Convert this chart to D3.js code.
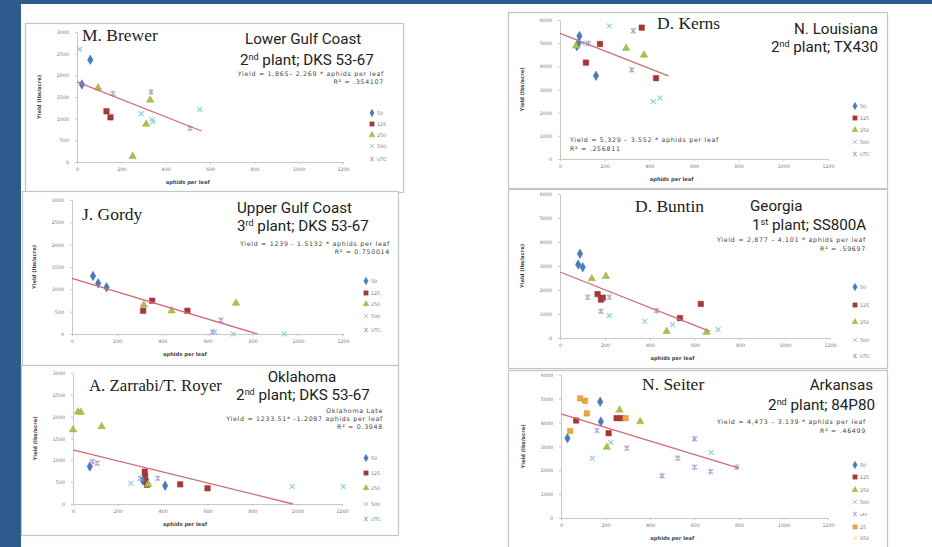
<!DOCTYPE html>
<html>
<head>
<meta charset="utf-8">
<script src="https://cdn.jsdelivr.net/npm/d3@7"></script>
<style>
html, body { margin: 0; padding: 0; background: #fff; }
svg { display: block; }
</style>
</head>
<body>
<div id="container"></div>
<script>
// tick labels
var xTicks = [0, 200, 400, 600, 800, 1000, 1200];
var yTicksLow = [0, 500, 1000, 1500, 2000, 2500, 3000];
var yTicksHigh = [0, 1000, 2000, 3000, 4000, 5000, 6000];
var seriesNames = ["50", "125", "250", "500", "UTC"];
var seiterSeries = ["50", "125", "250", "500", "utc", "25", "850"];

// points: [series, aphids per leaf, yield lbs/acre]
var brewerPts = [
    ["500", 12, 2600], ["50", 60, 2360], ["50", 22, 1790], ["250", 95, 1710], ["UTC", 162, 1580],
    ["125", 133, 1170], ["125", 151, 1030], ["250", 251, 130], ["UTC", 334, 1615], ["250", 330, 1430],
    ["500", 290, 1115], ["250", 312, 875], ["500", 338, 980], ["500", 343, 930], ["500", 554, 1210],
    ["UTC", 510, 780]
];
var gordyPts = [
    ["50", 93, 1300], ["50", 116, 1135], ["50", 153, 1045], ["250", 318, 650], ["125", 315, 520],
    ["125", 355, 745], ["250", 441, 520], ["125", 511, 520], ["250", 726, 690], ["UTC", 659, 310],
    ["UTC", 622, 45], ["500", 632, 55], ["500", 715, 0], ["500", 940, 0]
];
var zarrabiPts = [
    ["250", 22, 2110], ["250", 35, 2100], ["250", 0, 1700], ["250", 128, 1775], ["50", 75, 860],
    ["UTC", 86, 970], ["UTC", 108, 935], ["500", 258, 475], ["125", 320, 740], ["125", 322, 630],
    ["125", 325, 510], ["125", 330, 440], ["50", 310, 550], ["UTC", 300, 590], ["250", 335, 450],
    ["UTC", 378, 590], ["50", 411, 420], ["125", 478, 450], ["125", 600, 360], ["500", 978, 400],
    ["500", 1205, 400]
];
var kernsPts = [
    ["50", 87, 5310], ["50", 82, 5000], ["50", 76, 4870], ["250", 72, 4880], ["UTC", 127, 4990],
    ["500", 100, 5000], ["125", 179, 4965], ["125", 116, 4160], ["50", 161, 3590], ["500", 221, 5740],
    ["UTC", 328, 5540], ["125", 366, 5670], ["250", 296, 4780], ["250", 376, 4490], ["UTC", 321, 3850],
    ["125", 430, 3490], ["500", 418, 2480], ["500", 448, 2630]
];
var buntinPts = [
    ["50", 89, 3510], ["50", 81, 3060], ["50", 101, 2950], ["250", 141, 2470], ["250", 204, 2570],
    ["125", 167, 1830], ["125", 182, 1600], ["125", 190, 1680], ["UTC", 123, 1700], ["UTC", 219, 1700],
    ["UTC", 182, 1110], ["500", 219, 930], ["UTC", 429, 1140], ["500", 377, 700], ["125", 533, 830],
    ["125", 626, 1420], ["250", 474, 280], ["500", 500, 560], ["250", 651, 240], ["500", 703, 350]
];
var seiterPts = [
    ["50", 29, 3350], ["25", 41, 3650], ["125", 68, 4090], ["25", 86, 5020], ["25", 108, 4920],
    ["25", 116, 4390], ["50", 176, 4880], ["50", 179, 4045], ["utc", 161, 3670], ["250", 263, 4530],
    ["125", 250, 4190], ["125", 270, 4190], ["25", 290, 4190], ["250", 356, 4045], ["125", 214, 3560],
    ["250", 206, 2970], ["500", 224, 3170], ["utc", 296, 2930], ["500", 141, 2510], ["utc", 525, 2510],
    ["utc", 454, 1770], ["utc", 600, 3320], ["utc", 600, 2130], ["utc", 672, 1950], ["500", 675, 2750],
    ["utc", 790, 2130]
];

// trend lines, end points: [aphids, yield]
var brewerTrend = [[0, 1850], [562, 715]];
var gordyTrend = [[0, 1246], [822, 0]];
var zarrabiTrend = [[0, 1239], [981, 0]];
var kernsTrend = [[0, 5420], [485, 3590]];
var buntinTrend = [[0, 2750], [666, 280]];
var seiterTrend = [[0, 4366], [800, 2092]];

// panel texts: name, region, plant line [base, sup, rest], equation lines
var brewerText = ["M. Brewer", "Lower Gulf Coast", ["2", "nd", " plant; DKS 53-67"], ["Yield = 1,865\u2013 2.269 * aphids per leaf", "R\u00b2 = .354107"]];
var gordyText = ["J. Gordy", "Upper Gulf Coast", ["3", "rd", " plant; DKS 53-67"], ["Yield = 1239 - 1.5132 * aphids per leaf", "R\u00b2 = 0.750014"]];
var zarrabiText = ["A. Zarrabi/T. Royer", "Oklahoma", ["2", "nd", " plant; DKS 53-67"], ["Oklahoma Late", "Yield = 1233.51* -1.2087 aphids per leaf", "R\u00b2 = 0.3948"]];
var kernsText = ["D. Kerns", "N. Louisiana", ["2", "nd", " plant; TX430"], ["Yield = 5,329 \u2013 3.552 * aphids per leaf", "R\u00b2 = .256811"]];
var buntinText = ["D. Buntin", "Georgia", ["1", "st", " plant; SS800A"], ["Yield = 2,877 \u2013 4.101 * aphids per leaf", "R\u00b2 = .59697"]];
var seiterText = ["N. Seiter", "Arkansas", ["2", "nd", " plant; 84P80"], ["Yield = 4,473 \u2013 3.139 * aphids per leaf", "R\u00b2 = .46499"]];

var W = 932, H = 547;
var seriesStyle = {
    "50": {shape: "diamond", color: "#4a7cbd"},
    "125": {shape: "square", color: "#a83838"},
    "250": {shape: "triangle", color: "#a9c24a"},
    "500": {shape: "x", color: "#8fd0e2"},
    "utc": {shape: "star", color: "#b7a5da"},
    "25": {shape: "square", color: "#eea640"},
    "850": {shape: "x", color: "#efdf8a"}
};

var layout = [
    {pts: brewerPts, trend: brewerTrend, txt: brewerText, yTicks: yTicksLow, legend: seriesNames,
     box: [25, 23, 403, 192], xr: [77, 343], yr: [162, 32], name: [82, 41], nameSize: 17.5,
     region: [245, 44], plant: [240, 65], anchor: "start", eq: [384, [76, 84], "end"],
     leg: [372, [113, 124, 135, 146, 159]]},
    {pts: gordyPts, trend: gordyTrend, txt: gordyText, yTicks: yTicksLow, legend: seriesNames,
     box: [22, 191, 398, 365], xr: [72, 343], yr: [334, 200], name: [82, 220], nameSize: 17.5,
     region: [237, 213], plant: [237, 231], anchor: "start", eq: [390, [246, 254], "end"],
     leg: [366, [281, 293, 304, 316, 330]]},
    {pts: zarrabiPts, trend: zarrabiTrend, txt: zarrabiText, yTicks: yTicksLow, legend: seriesNames,
     box: [21, 365, 398, 535], xr: [73, 342], yr: [504, 373], name: [89, 391], nameSize: 16.8,
     region: [302, 382], plant: [303, 400], anchor: "middle", eq: [383, [413, 421, 429], "end"],
     leg: [366, [458, 473, 488, 504, 519]]},
    {pts: kernsPts, trend: kernsTrend, txt: kernsText, yTicks: yTicksHigh, legend: seriesNames,
     box: [508, 12, 887, 188], xr: [560, 828], yr: [159, 20], name: [657, 29], nameSize: 17.5,
     region: [878, 34], plant: [878, 52], anchor: "end", eq: [570, [142, 151], "start"],
     leg: [855, [106, 118, 130, 142, 154]]},
    {pts: buntinPts, trend: buntinTrend, txt: buntinText, yTicks: yTicksHigh, legend: seriesNames,
     box: [508, 189, 887, 368], xr: [560, 830], yr: [338, 194], name: [635, 212], nameSize: 17.5,
     region: [750, 211], plant: [752, 230], anchor: "start", eq: [866, [242, 251], "end"],
     leg: [855, [287, 305, 322, 340, 356]]},
    {pts: seiterPts, trend: seiterTrend, txt: seiterText, yTicks: yTicksHigh, legend: seiterSeries,
     box: [508, 370, 887, 552], xr: [561, 828], yr: [518, 375], name: [642, 390], nameSize: 17.5,
     region: [873, 390], plant: [875, 410], anchor: "end", eq: [866, [424, 433], "end"],
     leg: [855, [465, 477, 490, 502, 514, 527, 538]]}
];

var svg = d3.select("#container").append("svg").attr("width", W).attr("height", H);
var defs = svg.append("defs");
defs.append("filter").attr("id", "soft").attr("x", "-50%").attr("y", "-50%").attr("width", "200%").attr("height", "200%")
    .append("feGaussianBlur").attr("stdDeviation", 0.45);

svg.append("rect").attr("width", W).attr("height", H).attr("fill", "#fff");
// slide frame
svg.append("rect").attr("x", 0).attr("y", 0).attr("width", 21).attr("height", H).attr("fill", "#2e5b8e");
svg.append("rect").attr("x", 0).attr("y", 0).attr("width", W).attr("height", 4).attr("fill", "#2e5b8e");

function markerPath(shape) {
    if (shape === "x") return "M-2.4,-2.4L2.4,2.4M-2.4,2.4L2.4,-2.4";
    if (shape === "star") return "M-2.4,-2.4L2.4,2.4M-2.4,2.4L2.4,-2.4M0,-3L0,3";
    var t = {diamond: d3.symbolDiamond, square: d3.symbolSquare, triangle: d3.symbolTriangle}[shape];
    var sz = {diamond: 26, square: 30, triangle: 24}[shape];
    return d3.symbol().type(t).size(sz)();
}

function drawMarker(sel, key) {
    var st = seriesStyle[key.toLowerCase()];
    var p = sel.append("path").attr("d", markerPath(st.shape));
    if (st.shape === "x" || st.shape === "star") {
        p.attr("fill", "none").attr("stroke", st.color).attr("stroke-width", 1.2);
    } else {
        p.attr("fill", st.color).attr("stroke", d3.color(st.color).darker(0.3)).attr("stroke-width", 0.5);
    }
    return p;
}

layout.forEach(function (p) {
    var g = svg.append("g");
    g.append("rect")
        .attr("x", p.box[0] + 0.5).attr("y", p.box[1] + 0.5)
        .attr("width", p.box[2] - p.box[0]).attr("height", p.box[3] - p.box[1])
        .attr("fill", "#fff").attr("stroke", "#c4c4c4").attr("stroke-width", 1.2);

    var x = d3.scaleLinear().domain([0, 1200]).range(p.xr);
    var y = d3.scaleLinear().domain([0, p.yTicks[p.yTicks.length - 1]]).range(p.yr);

    var xAxis = g.append("g").attr("transform", "translate(0," + p.yr[0] + ")")
        .call(d3.axisBottom(x).tickValues(xTicks).tickFormat(d3.format("d"))
            .tickSize(2).tickSizeOuter(0).tickPadding(4));
    var yAxis = g.append("g").attr("transform", "translate(" + p.xr[0] + ",0)")
        .call(d3.axisLeft(y).tickValues(p.yTicks).tickFormat(d3.format("d"))
            .tickSize(2).tickSizeOuter(0).tickPadding(6));
    [xAxis, yAxis].forEach(function (a) {
        a.select(".domain").attr("stroke", "#c8c8c8");
        a.selectAll(".tick line").attr("stroke", "#c8c8c8");
        a.selectAll("text").attr("fill", "#777").style("font-family", "DejaVu Sans").style("font-size", "4.8px");
    });

    g.append("text")
        .attr("transform", "translate(" + (p.xr[0] - 36) + "," + ((p.yr[0] + p.yr[1]) / 2) + ") rotate(-90)")
        .attr("text-anchor", "middle")
        .style("font-family", "DejaVu Sans").style("font-size", "5.2px").style("font-weight", "bold")
        .attr("fill", "#444").text("Yield (lbs/acre)");
    g.append("text")
        .attr("x", (p.xr[0] + x(1000)) / 2).attr("y", p.yr[0] + 22)
        .attr("text-anchor", "middle")
        .style("font-family", "DejaVu Sans").style("font-size", "5.2px").style("font-weight", "bold")
        .attr("fill", "#444").text("aphids per leaf");

    // markers
    var pts = g.append("g").attr("filter", "url(#soft)");
    p.pts.forEach(function (d) {
        drawMarker(pts.append("g").attr("transform", "translate(" + x(d[1]) + "," + y(d[2]) + ")"), d[0]);
    });

    // trend line
    var line = d3.line().x(function (d) { return x(d[0]); }).y(function (d) { return y(d[1]); });
    g.append("path").datum(p.trend).attr("d", line)
        .attr("fill", "none").attr("stroke", "#d06a78").attr("stroke-width", 1.3);

    // titles
    g.append("text").attr("x", p.name[0]).attr("y", p.name[1])
        .style("font-family", "Liberation Serif").style("font-size", p.nameSize + "px")
        .attr("fill", "#222").text(p.txt[0]);
    g.append("text").attr("x", p.region[0]).attr("y", p.region[1]).attr("text-anchor", p.anchor)
        .style("font-family", "Roboto").style("font-size", "15.2px").attr("fill", "#222")
        .text(p.txt[1]);
    var pl = g.append("text").attr("x", p.plant[0]).attr("y", p.plant[1]).attr("text-anchor", p.anchor)
        .style("font-family", "Roboto").style("font-size", "15.2px").attr("fill", "#222");
    pl.append("tspan").text(p.txt[2][0]);
    pl.append("tspan").attr("dy", -5).style("font-size", "9px").text(p.txt[2][1]);
    pl.append("tspan").attr("dy", 5).text(p.txt[2][2]);

    p.txt[3].forEach(function (s, i) {
        g.append("text").attr("x", p.eq[0]).attr("y", p.eq[1][i]).attr("text-anchor", p.eq[2])
            .style("font-family", "DejaVu Sans").style("font-size", "6.3px").style("letter-spacing", "0.7px")
            .attr("fill", "#444").text(s);
    });

    // legend
    p.legend.forEach(function (s, i) {
        var lg = g.append("g").attr("transform", "translate(" + p.leg[0] + "," + p.leg[1][i] + ")");
        drawMarker(lg, s).attr("transform", "scale(0.8)").attr("filter", "url(#soft)");
        lg.append("text").attr("x", 5).attr("dy", "0.35em")
            .style("font-family", "DejaVu Sans").style("font-size", "4.8px")
            .attr("fill", "#777").text(s);
    });
});
</script>
</body>
</html>
